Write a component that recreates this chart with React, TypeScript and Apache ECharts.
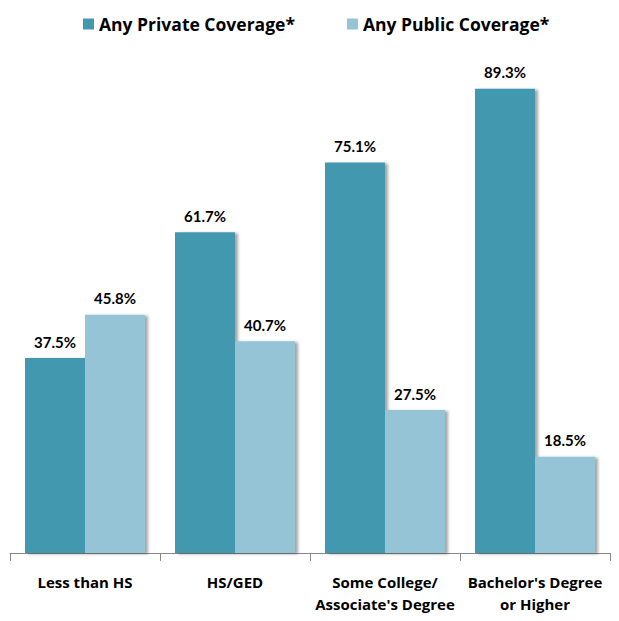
import React, { useEffect, useRef } from "react";
import * as echarts from "echarts";

const categories = ["Less than HS", "HS/GED", "Some College/\nAssociate's Degree", "Bachelor's Degree\nor Higher"];
const privateValues = [37.5, 61.7, 75.1, 89.3];
const publicValues = [45.8, 40.7, 27.5, 18.5];
const seriesNames = ["Any Private Coverage*", "Any Public Coverage*"];

const FONT = "'Open Sans', Lato, sans-serif";

export default function App() {
  const ref = useRef<HTMLDivElement>(null);
  useEffect(() => {
    if (!ref.current) return;
    const chart = echarts.init(ref.current, null, { renderer: "svg" });
    const label = {
      show: true,
      position: "top",
      distance: 9,
      formatter: (p: any) => p.value.toFixed(1) + "%",
      fontFamily: "Lato, sans-serif",
      fontWeight: "bold",
      fontSize: 15,
      color: "#000",
    };
    const shadow = {
      shadowColor: "rgba(0,0,0,0.35)",
      shadowBlur: 3,
      shadowOffsetX: 3,
      shadowOffsetY: 1,
    };
    chart.setOption({
      animation: false,
      legend: {
        top: 10,
        left: 78,
        itemWidth: 11,
        itemHeight: 11,
        itemGap: 52,
        icon: "rect",
        textStyle: { fontFamily: FONT, fontWeight: "bold", fontSize: 17.5, color: "#000" },
      },
      grid: { left: 10, right: 9, top: 33, bottom: 68 },
      xAxis: {
        type: "category",
        data: categories,
        axisLine: { lineStyle: { color: "#888", width: 1 } },
        axisTick: { show: true, length: 8, lineStyle: { color: "#888" } },
        axisLabel: {
          fontFamily: FONT,
          fontWeight: "bold",
          fontSize: 15,
          color: "#000",
          margin: 18,
          lineHeight: 22,
          interval: 0,
        },
      },
      yAxis: {
        type: "value",
        min: 0,
        max: 100,
        show: false,
        splitLine: { show: false },
      },
      series: [
        {
          name: seriesNames[0],
          type: "bar",
          data: privateValues,
          barGap: "0%",
          barCategoryGap: "20%",
          itemStyle: { color: "#4398AF", ...shadow },
          label,
        },
        {
          name: seriesNames[1],
          type: "bar",
          data: publicValues,
          itemStyle: { color: "#94C4D5", ...shadow },
          label,
        },
      ],
    });
    return () => chart.dispose();
  }, []);
  return <div ref={ref} style={{ width: 619, height: 621, margin: -8 }} />;
}
